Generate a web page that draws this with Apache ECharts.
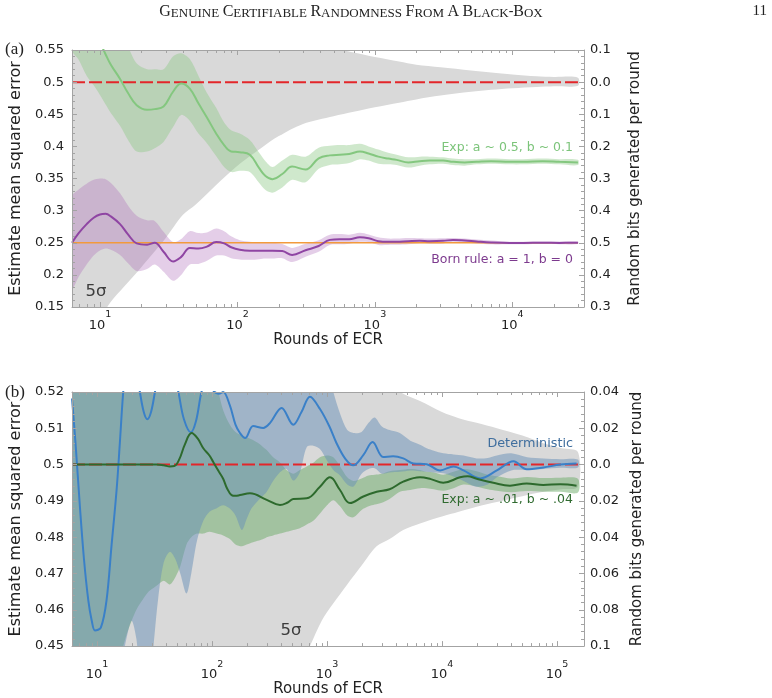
<!DOCTYPE html>
<html><head><meta charset="utf-8">
<script src="https://cdn.jsdelivr.net/npm/echarts@6/dist/echarts.min.js"></script>
<style>html,body{margin:0;padding:0;background:#fff}#c{width:772px;height:698px}</style>
</head><body><div id="c"></div>
<script>
// ---------------- Panel (a) data ----------------
const xA = [6.26, 7, 8, 9, 10, 11, 12, 14, 16, 18.5, 22, 25, 29, 34, 39, 45, 52, 60, 70, 80, 90, 104, 123, 144, 160, 180, 212, 250, 313, 390, 470, 556, 650, 778, 900, 1060, 1250, 1440, 1750, 2120, 2500, 3130, 3700, 4500, 5500, 7000, 9550, 12000, 16600, 22000, 30000];
const bornMean = [0.25, 0.265, 0.279, 0.289, 0.294, 0.295, 0.291, 0.279, 0.263, 0.249, 0.247, 0.25, 0.236, 0.221, 0.228, 0.242, 0.241, 0.244, 0.251, 0.249, 0.243, 0.239, 0.2375, 0.2375, 0.2375, 0.2375, 0.237, 0.231, 0.2383, 0.245, 0.2545, 0.2556, 0.2556, 0.2586, 0.257, 0.2525, 0.2515, 0.2517, 0.2525, 0.2531, 0.2525, 0.253, 0.2544, 0.2535, 0.252, 0.2505, 0.2497, 0.2497, 0.25, 0.2498, 0.25];
const bornUpper = [0.322, 0.333, 0.342, 0.348, 0.350, 0.349, 0.343, 0.327, 0.308, 0.292, 0.285, 0.284, 0.267, 0.251, 0.256, 0.268, 0.265, 0.266, 0.272, 0.268, 0.260, 0.254, 0.2515, 0.2505, 0.2495, 0.2495, 0.248, 0.242, 0.2483, 0.254, 0.2625, 0.2636, 0.2626, 0.2656, 0.263, 0.2585, 0.2565, 0.2567, 0.2575, 0.2571, 0.2565, 0.257, 0.2574, 0.2565, 0.255, 0.2535, 0.2517, 0.2517, 0.252, 0.2518, 0.252];
const bornLower = [0.178, 0.197, 0.216, 0.230, 0.238, 0.241, 0.239, 0.231, 0.218, 0.206, 0.209, 0.216, 0.205, 0.191, 0.200, 0.216, 0.217, 0.222, 0.230, 0.230, 0.226, 0.224, 0.2235, 0.2245, 0.2255, 0.2255, 0.226, 0.220, 0.2283, 0.236, 0.2465, 0.2476, 0.2486, 0.2516, 0.251, 0.2465, 0.2465, 0.2467, 0.2475, 0.2491, 0.2485, 0.249, 0.2514, 0.2505, 0.249, 0.2475, 0.2477, 0.2477, 0.248, 0.2478, 0.248];
const expAMean = [0.64, 0.625, 0.60, 0.58, 0.562, 0.543, 0.527, 0.505, 0.483, 0.464, 0.457, 0.458, 0.462, 0.485, 0.498, 0.49, 0.467, 0.445, 0.42, 0.402, 0.392, 0.391, 0.387, 0.366, 0.354, 0.349, 0.357, 0.3685, 0.364, 0.3815, 0.386, 0.387, 0.388, 0.392, 0.389, 0.384, 0.381, 0.379, 0.375, 0.377, 0.378, 0.378, 0.376, 0.375, 0.376, 0.377, 0.376, 0.376, 0.377, 0.376, 0.375];
const expAUpper = [0.73, 0.71, 0.69, 0.665, 0.645, 0.625, 0.605, 0.58, 0.555, 0.529, 0.52, 0.52, 0.52, 0.54, 0.545, 0.536, 0.51, 0.483, 0.46, 0.437, 0.425, 0.42, 0.41, 0.39, 0.377, 0.368, 0.378, 0.387, 0.384, 0.398, 0.401, 0.402, 0.402, 0.404, 0.40, 0.395, 0.39, 0.387, 0.383, 0.384, 0.384, 0.383, 0.381, 0.380, 0.380, 0.381, 0.380, 0.380, 0.381, 0.380, 0.379];
const expALower = [0.55, 0.535, 0.51, 0.495, 0.48, 0.465, 0.452, 0.432, 0.41, 0.392, 0.392, 0.397, 0.407, 0.43, 0.449, 0.44, 0.42, 0.405, 0.385, 0.368, 0.36, 0.362, 0.36, 0.343, 0.332, 0.328, 0.336, 0.348, 0.344, 0.365, 0.371, 0.372, 0.374, 0.38, 0.378, 0.373, 0.372, 0.371, 0.367, 0.370, 0.372, 0.373, 0.371, 0.370, 0.372, 0.373, 0.372, 0.372, 0.373, 0.372, 0.371];
const xGA = [6.26, 8, 10, 12, 15, 20, 30, 40, 50, 70, 100, 150, 200, 300, 500, 700, 1000, 1500, 2000, 3000, 5000, 7000, 10000, 15000, 20000, 30000];
const grayAUpper = [0.99, 0.94, 0.87, 0.842, 0.818, 0.788, 0.743, 0.707, 0.69, 0.66, 0.63, 0.602, 0.584, 0.565, 0.553, 0.546, 0.539, 0.532, 0.527, 0.523, 0.518, 0.515, 0.5118, 0.509, 0.508, 0.507];
const grayALower = [0.01, 0.06, 0.13, 0.158, 0.182, 0.212, 0.257, 0.293, 0.31, 0.34, 0.37, 0.398, 0.416, 0.435, 0.447, 0.454, 0.461, 0.468, 0.473, 0.479, 0.485, 0.488, 0.4905, 0.4925, 0.4935, 0.4945];
const refAX = [6.26, 30000];
const refAHigh = [0.5, 0.5];
const refALow = [0.25, 0.25];
const leftTicksA = [0.15, 0.55, 0.05];
const rightLabelsA = ['0.3', '0.4', '0.5', '0.4', '0.3', '0.2', '0.1', '0.0', '0.1'];

// ---------------- Panel (b) data ----------------
const xBB = [6.06, 8, 10, 12, 14, 16.4, 18, 20, 22, 24, 28, 31, 34, 38, 43, 48, 53, 60, 66, 74, 84, 95, 110, 125, 143, 160, 182, 200, 220, 250, 279, 299, 340, 390, 445, 509, 581, 666, 760, 869, 1000, 1135, 1300, 1500, 1700, 2000, 2300, 2600, 3000, 3500, 4300, 5300, 6440, 7360, 8500, 10260, 12600, 15400, 20000, 25000, 30000, 40000, 55000, 76000, 107000, 152000];
const detUpper = [0.56, 0.56, 0.56, 0.56, 0.56, 0.56, 0.56, 0.56, 0.56, 0.56, 0.56, 0.56, 0.56, 0.56, 0.56, 0.56, 0.56, 0.56, 0.56, 0.56, 0.56, 0.56, 0.56, 0.56, 0.56, 0.56, 0.56, 0.56, 0.56, 0.56, 0.56, 0.56, 0.56, 0.56, 0.56, 0.56, 0.56, 0.56, 0.55, 0.538, 0.527, 0.52, 0.514, 0.5095, 0.5087, 0.509, 0.5115, 0.513, 0.5105, 0.5095, 0.5087, 0.5066, 0.5055, 0.5045, 0.5038, 0.5031, 0.5028, 0.5025, 0.5017, 0.5018, 0.5025, 0.5031, 0.502, 0.5017, 0.5015, 0.5014];
const detLower = [0.40, 0.405, 0.41, 0.42, 0.432, 0.445, 0.452, 0.457, 0.452, 0.44, 0.435, 0.45, 0.463, 0.473, 0.476, 0.474, 0.47, 0.4645, 0.47, 0.479, 0.4845, 0.487, 0.488, 0.4888, 0.4879, 0.486, 0.482, 0.485, 0.4879, 0.49, 0.4915, 0.4925, 0.4955, 0.4979, 0.4988, 0.4956, 0.4979, 0.5048, 0.5052, 0.5043, 0.5011, 0.4985, 0.497, 0.4945, 0.494, 0.4975, 0.4988, 0.499, 0.4975, 0.4978, 0.498, 0.4984, 0.4982, 0.498, 0.4978, 0.4976, 0.4967, 0.4955, 0.4939, 0.4945, 0.4965, 0.4984, 0.4985, 0.4988, 0.4991, 0.4992];
const expBUpper = [0.54, 0.54, 0.54, 0.54, 0.54, 0.54, 0.54, 0.54, 0.54, 0.54, 0.54, 0.54, 0.54, 0.54, 0.54, 0.54, 0.54, 0.54, 0.54, 0.54, 0.54, 0.53, 0.522, 0.515, 0.511, 0.509, 0.508, 0.5075, 0.507, 0.506, 0.5048, 0.504, 0.502, 0.5006, 0.4985, 0.4975, 0.4985, 0.4995, 0.5005, 0.502, 0.5025, 0.502, 0.4995, 0.4965, 0.4955, 0.4962, 0.497, 0.4972, 0.4975, 0.4982, 0.4985, 0.4988, 0.4985, 0.498, 0.4978, 0.4972, 0.498, 0.4988, 0.4982, 0.4972, 0.4968, 0.4962, 0.4966, 0.4963, 0.4964, 0.4961];
const expBLower = [0.38, 0.39, 0.40, 0.415, 0.43, 0.448, 0.453, 0.457, 0.46, 0.462, 0.465, 0.466, 0.467, 0.468, 0.467, 0.469, 0.472, 0.478, 0.48, 0.481, 0.481, 0.4815, 0.481, 0.4805, 0.4795, 0.478, 0.4775, 0.478, 0.4785, 0.479, 0.4795, 0.48, 0.4805, 0.481, 0.4815, 0.482, 0.4825, 0.4835, 0.4845, 0.4865, 0.4888, 0.4902, 0.4885, 0.486, 0.4855, 0.4875, 0.4885, 0.489, 0.4895, 0.4905, 0.4925, 0.493, 0.4935, 0.4935, 0.4932, 0.4928, 0.4935, 0.4945, 0.494, 0.4932, 0.4928, 0.4924, 0.4927, 0.4925, 0.4925, 0.4923];
const detX = [6.06, 6.5, 7.1, 7.7, 8.4, 9.0, 9.6, 10.8, 12.1, 13.4, 14.8, 15.8, 16.9, 18.2, 19.7, 21.5, 23.6, 25.5, 27.4, 29.5, 31.9, 35, 39.8, 45, 51, 57, 65.5, 72.6, 81, 90, 102, 115, 125, 143, 160, 175, 194, 228, 279, 320, 403, 509, 600, 711, 869, 1050, 1211, 1450, 1693, 2068, 2493, 3077, 3760, 4605, 5640, 7360, 9630, 12600, 15400, 21500, 30000, 41900, 54500, 76000, 107000, 148000];
const detY = [0.5182, 0.506, 0.4884, 0.474, 0.4626, 0.457, 0.4543, 0.4551, 0.4626, 0.478, 0.493, 0.506, 0.52, 0.53, 0.534, 0.528, 0.52, 0.5145, 0.5125, 0.5145, 0.52, 0.527, 0.53, 0.527, 0.52, 0.5125, 0.5089, 0.512, 0.52, 0.524, 0.5205, 0.5195, 0.52, 0.5163, 0.511, 0.5087, 0.5073, 0.5106, 0.5101, 0.5115, 0.5156, 0.511, 0.5145, 0.5187, 0.5153, 0.5105, 0.5059, 0.5015, 0.4998, 0.5026, 0.5062, 0.5021, 0.5023, 0.5017, 0.5003, 0.5001, 0.4984, 0.4995, 0.4984, 0.4962, 0.4984, 0.5009, 0.4987, 0.4992, 0.5, 0.5003];
const expBX = [6.06, 33, 38, 43, 47, 52, 58, 66.5, 75, 84, 95, 102.5, 115, 125, 135, 148, 160, 175, 214, 299, 390, 450, 509, 666, 869, 1062, 1297, 1585, 2070, 2705, 3500, 4605, 6440, 8000, 10260, 14340, 16700, 20060, 27950, 39000, 54500, 76000, 107000, 148000];
const expBY = [0.5, 0.5, 0.4998, 0.4995, 0.4996, 0.5015, 0.5055, 0.5087, 0.5072, 0.5045, 0.5025, 0.5007, 0.498, 0.4961, 0.4935, 0.4916, 0.4914, 0.4916, 0.4921, 0.4903, 0.4889, 0.4895, 0.4905, 0.4907, 0.4939, 0.4965, 0.493, 0.4894, 0.4912, 0.4925, 0.4932, 0.4953, 0.4965, 0.496, 0.495, 0.4965, 0.4968, 0.4961, 0.495, 0.4942, 0.4948, 0.4944, 0.4946, 0.4942];
const xGB = [6.06, 10, 20, 50, 100, 200, 300, 500, 710, 900, 1120, 1500, 2000, 2700, 3500, 4600, 6440, 10000, 14000, 20000, 30000, 50000, 76000, 110000, 152000];
const grayBUpper = [0.9, 0.85, 0.75, 0.67, 0.625, 0.59, 0.575, 0.56, 0.55, 0.543, 0.5385, 0.533, 0.528, 0.5245, 0.522, 0.5195, 0.5175, 0.5145, 0.5128, 0.5115, 0.51, 0.508, 0.5059, 0.5045, 0.5035];
const grayBLower = [0.10, 0.15, 0.25, 0.33, 0.375, 0.41, 0.425, 0.44, 0.45, 0.457, 0.4615, 0.467, 0.4722, 0.4775, 0.4795, 0.482, 0.4838, 0.4857, 0.487, 0.4884, 0.4897, 0.4913, 0.4925, 0.4932, 0.4939];
const refBX = [6.06, 152000];
const refBY = [0.5, 0.5];
const leftTicksB = [0.45, 0.52, 0.01];
const rightLabelsB = ['0.1', '0.08', '0.06', '0.04', '0.02', '0.0', '0.02', '0.04'];

const xRangeA = [6.26, 33200];
const xRangeB = [6.06, 171800];

// ---------------- styling ----------------
const FRAME = '#a3a3a3';
const TXT = '#222';
const SANS = 'DejaVu Sans';
const SERIF = 'Liberation Serif';

function pairs(xs, ys) { return xs.map((x, i) => [x, ys[i]]); }

// shaded band between lo and hi, drawn as one smoothed polygon through the axes' scales
function band(xs, lo, hi, color, xi, yi, z) {
  return {type: 'custom', xAxisIndex: xi, yAxisIndex: yi, silent: true, z: z,
    data: xs.map((x, i) => [x, lo[i], hi[i]]),
    encode: {x: 0, y: [1, 2]},
    renderItem: function (params, api) {
      if (params.dataIndex !== 0) return null;
      const pts = [];
      for (let i = 0; i < xs.length; i++) pts.push(api.coord([xs[i], hi[i]]));
      for (let i = xs.length - 1; i >= 0; i--) pts.push(api.coord([xs[i], lo[i]]));
      const cs = params.coordSys;
      return {type: 'polygon', shape: {points: pts, smooth: 0.3},
        style: {fill: color},
        clipPath: {type: 'rect', shape: {x: cs.x, y: cs.y, width: cs.width, height: cs.height}}};
    }};
}
function line(xs, ys, color, width, xi, yi, z, dash, smooth) {
  return {type: 'line', xAxisIndex: xi, yAxisIndex: yi, data: pairs(xs, ys), symbol: 'none',
    smooth: smooth, silent: true, z: z, clip: true,
    lineStyle: {color: color, width: width, type: dash || 'solid', cap: 'butt'}};
}
function minorTickValues(range) {
  const out = [];
  for (let k = 0; k <= 6; k++) for (let m = 2; m <= 9; m++) {
    const v = m * Math.pow(10, k);
    if (v > range[0] && v < range[1]) out.push(v);
  }
  return out;
}
function minorTicks(range, ymin, xi, yi) {
  return {type: 'custom', xAxisIndex: xi, yAxisIndex: yi, silent: true, z: 8,
    data: minorTickValues(range).map(v => [v, ymin]),
    renderItem: function (params, api) {
      const x = Math.round(api.coord([api.value(0), api.value(1)])[0]) + 0.5;
      const cs = params.coordSys;
      return {type: 'group', children: [
        {type: 'line', shape: {x1: x, y1: cs.y + cs.height, x2: x, y2: cs.y + cs.height - 3}, style: {stroke: FRAME, lineWidth: 1}},
        {type: 'line', shape: {x1: x, y1: cs.y, x2: x, y2: cs.y + 3}, style: {stroke: FRAME, lineWidth: 1}}
      ]};
    }};
}
function logLabel(v) {
  const e = Math.log10(v); const r = Math.round(e);
  if (Math.abs(e - r) > 1e-6) return '';
  return '{b|10}{s|' + r + '}';
}
const xRich = {
  b: {fontSize: 13, fontFamily: SANS, color: TXT, lineHeight: 22, verticalAlign: 'bottom'},
  s: {fontSize: 9.5, fontFamily: SANS, color: TXT, lineHeight: 11, verticalAlign: 'top'}
};
function xAxisDef(grid, range, pos, margin, gap) {
  const bottom = pos === 'bottom';
  return {type: 'log', logBase: 10, gridIndex: grid, position: pos, min: range[0], max: range[1], z: 8,
    axisLine: {show: true, lineStyle: {color: FRAME, width: 1}},
    axisTick: {show: true, inside: true, length: 5, lineStyle: {color: FRAME}},
    axisLabel: {show: bottom, formatter: logLabel, rich: xRich, margin: margin, showMinLabel: false, showMaxLabel: false},
    splitLine: {show: false},
    name: bottom ? 'Rounds of ECR' : '', nameLocation: 'middle', nameGap: gap,
    nameTextStyle: {fontFamily: SANS, fontSize: 15, color: TXT}};
}
function yAxisDef(grid, t, pos, labels, name, gap, fsz) {
  return {type: 'value', gridIndex: grid, position: pos, min: t[0], max: t[1], interval: t[2], z: 8,
    axisLine: {show: true, lineStyle: {color: FRAME, width: 1}},
    axisTick: {show: true, inside: true, length: 5, lineStyle: {color: FRAME}},
    minorTick: {show: true, splitNumber: 5, length: 3, lineStyle: {color: FRAME}},
    splitLine: {show: false},
    axisLabel: {color: TXT, fontFamily: SANS, fontSize: 13, margin: pos === 'left' ? 8 : 6,
      formatter: labels ? (v => labels[Math.round((v - t[0]) / t[2])]) : null},
    name: name, nameLocation: 'middle', nameGap: gap, nameRotate: 90,
    nameTextStyle: {fontFamily: SANS, fontSize: fsz, color: TXT}};
}

const series = [
  band(xGA, grayALower, grayAUpper, '#d9d9d9', 0, 0, 1),
  band(xA, expALower, expAUpper, 'rgba(141,200,134,0.42)', 0, 0, 1),
  band(xA, bornLower, bornUpper, 'rgba(172,106,184,0.33)', 0, 0, 1),
  line(refAX, refALow, '#f29a3c', 1.6, 0, 0, 3, 'solid', false),
  line(refAX, refAHigh, '#e3262a', 2, 0, 0, 3, [13, 4], false),
  line(xA, expAMean, '#84c77f', 2, 0, 0, 4, 'solid', 0.4),
  line(xA, bornMean, '#8f45a3', 2, 0, 0, 4, 'solid', 0.4),
  minorTicks(xRangeA, leftTicksA[0], 0, 0),

  band(xGB, grayBLower, grayBUpper, '#d9d9d9', 2, 2, 1),
  band(xBB, expBLower, expBUpper, 'rgba(107,171,103,0.5)', 2, 2, 1),
  band(xBB, detLower, detUpper, 'rgba(103,143,183,0.5)', 2, 2, 1),
  line(refBX, refBY, '#e3262a', 2, 2, 2, 3, [13, 4], false),
  line(detX, detY, '#3a80c8', 2, 2, 2, 4, 'solid', 0.35),
  line(expBX, expBY, '#2d6a2d', 2, 2, 2, 4, 'solid', 0.4),
  minorTicks(xRangeB, leftTicksB[0], 2, 2)
];

const txt = (x, y, text, color, size, align, family) => ({type: 'text', x: x, y: y, silent: true, z: 20,
  style: {text: text, fill: color, fontSize: size, fontFamily: family || SANS, align: align || 'left', verticalAlign: 'middle'}});

const option = {
  animation: false,
  backgroundColor: '#fff',
  grid: [
    {left: 72, top: 50, width: 512, height: 257},
    {left: 72, top: 392, width: 512, height: 258}
  ],
  xAxis: [
    xAxisDef(0, xRangeA, 'bottom', 3, 21),
    xAxisDef(0, xRangeA, 'top', 6, 0),
    xAxisDef(1, xRangeB, 'bottom', 13, 29),
    xAxisDef(1, xRangeB, 'top', 6, 0)
  ],
  yAxis: [
    yAxisDef(0, leftTicksA, 'left', null, 'Estimate mean squared error', 39, 16),
    yAxisDef(0, leftTicksA, 'right', rightLabelsA, 'Random bits generated per round', 44, 15),
    yAxisDef(1, leftTicksB, 'left', null, 'Estimate mean squared error', 39, 16),
    yAxisDef(1, leftTicksB, 'right', rightLabelsB, 'Random bits generated per round', 44, 15)
  ],
  series: series,
  graphic: [
    {type: 'text', x: 351, y: 11, silent: true, z: 20,
      style: {text: '{B|G}{s|ENUINE} {B|C}{s|ERTIFIABLE} {B|R}{s|ANDOMNESS} {B|F}{s|ROM} {B|A} {B|B}{s|LACK}-{B|B}{s|OX}',
        align: 'center', verticalAlign: 'middle', fill: TXT, fontSize: 14, fontFamily: SERIF,
        rich: {B: {fontSize: 16, fontFamily: SERIF, lineHeight: 18, verticalAlign: 'bottom', fill: TXT},
               s: {fontSize: 13, fontFamily: SERIF, lineHeight: 15.6, verticalAlign: 'bottom', fill: TXT}}}},
    txt(767, 11, '11', TXT, 15, 'right', SERIF),
    txt(5, 50, '(a)', TXT, 17, 'left', SERIF),
    txt(5, 393, '(b)', TXT, 17, 'left', SERIF),
    txt(573, 148, 'Exp: a ~ 0.5, b ~ 0.1', '#7cc47a', 12.5, 'right'),
    txt(573, 260, 'Born rule: a = 1, b = 0', '#7d3a8e', 12.5, 'right'),
    txt(96, 292, '5σ', '#3c3c3c', 16.5, 'center'),
    txt(573, 444, 'Deterministic', '#3f6e9e', 12.8, 'right'),
    txt(573, 500, 'Exp: a ~ .01, b ~ .04', '#2f6a2f', 12.5, 'right'),
    txt(291, 631, '5σ', '#3c3c3c', 16.5, 'center')
  ]
};
const chart = echarts.init(document.getElementById('c'), null, {renderer: 'canvas'});
chart.setOption(option);
</script></body></html>
